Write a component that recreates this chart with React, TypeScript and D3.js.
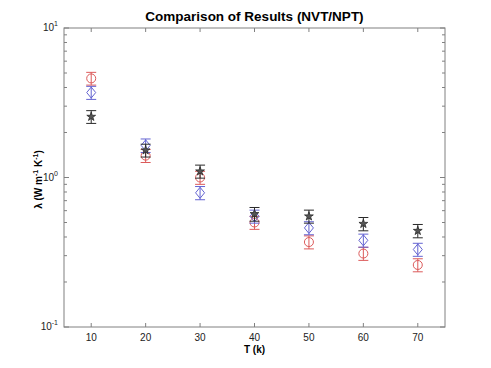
import React, { useEffect, useRef } from "react";
import * as d3 from "d3";

// temperatures (K)
const temps = [10, 20, 30, 40, 50, 60, 70];
// thermal conductivity values
const redVals = [4.6, 1.4, 1.0, 0.5, 0.37, 0.31, 0.26];
const redErr = [0.45, 0.14, 0.1, 0.05, 0.037, 0.031, 0.026];
const blueVals = [3.7, 1.64, 0.79, 0.55, 0.46, 0.38, 0.33];
const blueErr = [0.37, 0.17, 0.08, 0.055, 0.046, 0.038, 0.033];
const starVals = [2.55, 1.52, 1.1, 0.57, 0.55, 0.49, 0.44];
const starErr = [0.25, 0.15, 0.11, 0.06, 0.055, 0.05, 0.045];
const xTicks = [10, 20, 30, 40, 50, 60, 70];
const yMajor = [0.1, 1, 10];
const yExp = ["-1", "0", "1"];

const W = 491, H = 368;
const M = { left: 64, right: 46, top: 28, bottom: 41 };

export default function App() {
  const ref = useRef<SVGSVGElement>(null);

  useEffect(() => {
    const svg = d3.select(ref.current);
    svg.selectAll("*").remove();

    const x = d3.scaleLinear().domain([5, 75]).range([M.left, W - M.right]);
    const y = d3.scaleLog().domain([0.1, 10]).range([H - M.bottom, M.top]);
    const x0 = M.left, x1 = W - M.right, y0 = H - M.bottom, y1 = M.top;
    const axisCol = "#808080";

    // frame
    svg.append("rect").attr("x", x0).attr("y", y1).attr("width", x1 - x0).attr("height", y0 - y1)
      .attr("fill", "white").attr("stroke", axisCol).attr("stroke-width", 1);

    // x ticks top and bottom (inward)
    const g = svg.append("g");
    xTicks.forEach(t => {
      g.append("line").attr("x1", x(t)).attr("x2", x(t)).attr("y1", y0).attr("y2", y0 - 4).attr("stroke", axisCol);
      g.append("line").attr("x1", x(t)).attr("x2", x(t)).attr("y1", y1).attr("y2", y1 + 4).attr("stroke", axisCol);
      g.append("text").attr("x", x(t)).attr("y", y0 + 14).attr("text-anchor", "middle")
        .attr("font-family", "Arial, Liberation Sans, sans-serif").attr("font-size", 10).attr("fill", "#222").text(t);
    });

    // y log ticks left and right
    const yTicks = y.ticks();
    yTicks.forEach(t => {
      const major = yMajor.some(m => Math.abs(m - t) < 1e-9);
      const len = major ? 5 : 3;
      g.append("line").attr("x1", x0).attr("x2", x0 + len).attr("y1", y(t)).attr("y2", y(t)).attr("stroke", axisCol);
      g.append("line").attr("x1", x1).attr("x2", x1 - len).attr("y1", y(t)).attr("y2", y(t)).attr("stroke", axisCol);
    });
    yMajor.forEach((m, i) => {
      const tx = g.append("text").attr("x", x0 - 6).attr("y", y(m) + 3).attr("text-anchor", "end")
        .attr("font-family", "Arial, Liberation Sans, sans-serif").attr("font-size", 10).attr("fill", "#222");
      tx.append("tspan").text("10");
      tx.append("tspan").attr("dy", -5).attr("font-size", 7).text(yExp[i]);
    });

    const series = [
      { vals: redVals, err: redErr, color: "#dc5a5a", shape: "circle" },
      { vals: blueVals, err: blueErr, color: "#6464d2", shape: "diamond" },
      { vals: starVals, err: starErr, color: "#2a2a2a", shape: "star" },
    ];

    series.forEach(s => {
      const sg = svg.append("g");
      temps.forEach((t, i) => {
        const cx = x(t);
        const lo = y(s.vals[i] - s.err[i]);
        const hi = y(s.vals[i] + s.err[i]);
        sg.append("line").attr("x1", cx).attr("x2", cx).attr("y1", lo).attr("y2", hi).attr("stroke", s.color).attr("stroke-width", 1);
        [lo, hi].forEach(yy => sg.append("line").attr("x1", cx - 5).attr("x2", cx + 5).attr("y1", yy).attr("y2", yy)
          .attr("stroke", s.color).attr("stroke-width", 1));
        const cy = y(s.vals[i]);
        if (s.shape === "circle") {
          sg.append("circle").attr("cx", cx).attr("cy", cy).attr("r", 4.5).attr("fill", "none").attr("stroke", s.color);
        } else if (s.shape === "diamond") {
          sg.append("path").attr("transform", `translate(${cx},${cy})`)
            .attr("d", "M0,-5.5L4.5,0L0,5.5L-4.5,0Z").attr("fill", "none").attr("stroke", s.color);
        } else {
          sg.append("path").attr("transform", `translate(${cx},${cy})`)
            .attr("d", d3.symbol(d3.symbolStar, 24)()).attr("fill", "#555").attr("stroke", s.color).attr("stroke-width", 0.8);
        }
      });
    });

    // title and axis labels
    svg.append("text").attr("x", (x0 + x1) / 2).attr("y", 21).attr("text-anchor", "middle")
      .attr("font-family", "Arial, Liberation Sans, sans-serif").attr("font-size", 13.5).attr("font-weight", "bold")
      .text("Comparison of Results (NVT/NPT)");
    svg.append("text").attr("x", (x0 + x1) / 2).attr("y", y0 + 26).attr("text-anchor", "middle")
      .attr("font-family", "Arial, Liberation Sans, sans-serif").attr("font-size", 10).attr("font-weight", "bold")
      .text("T (k)");
    const yl = svg.append("text").attr("transform", `translate(42,${(y0 + y1) / 2 + 2}) rotate(-90)`).attr("text-anchor", "middle")
      .attr("font-family", "Arial, Liberation Sans, sans-serif").attr("font-size", 10).attr("font-weight", "bold");
    yl.append("tspan").text("λ (W m");
    yl.append("tspan").attr("dy", -4).attr("font-size", 7).text("-1");
    yl.append("tspan").attr("dy", 4).text(" K");
    yl.append("tspan").attr("dy", -4).attr("font-size", 7).text("-1");
    yl.append("tspan").attr("dy", 4).text(")");
  }, []);

  return <svg ref={ref} width={W} height={H} style={{ position: "absolute", left: 0, top: 0, background: "white" }} />;
}
